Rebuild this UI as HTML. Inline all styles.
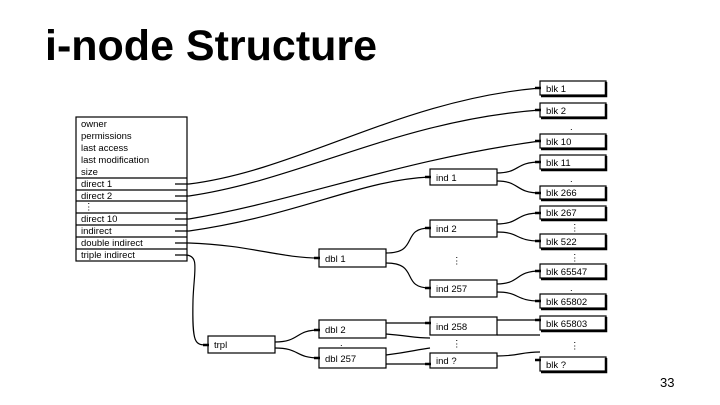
<!DOCTYPE html><html><head><style>body{margin:0;background:#fff}svg{display:block}</style></head><body>
<svg width="720" height="405" viewBox="0 0 720 405" xmlns="http://www.w3.org/2000/svg" font-family="Liberation Sans, sans-serif">
<text x="45" y="60" font-size="43" font-weight="bold">i-node Structure</text>
<text x="660" y="387" font-size="13">33</text>
<g fill="none" stroke="#000" stroke-width="1.2">
<rect x="76" y="117" width="111" height="144"/>
<path d="M76 178H187M76 190H187M76 201H187M76 213H187M76 225H187M76 237H187M76 249H187"/>
</g>
<g font-size="9.5" fill="#000">
<text x="81" y="127">owner</text><text x="81" y="139">permissions</text><text x="81" y="151">last access</text><text x="81" y="163">last modification</text><text x="81" y="175">size</text>
<text x="81" y="187">direct 1</text><text x="81" y="199">direct 2</text><text x="84" y="210">⋮</text><text x="81" y="222">direct 10</text><text x="81" y="234">indirect</text><text x="81" y="246">double indirect</text><text x="81" y="258">triple indirect</text>
</g>
<g fill="#fff" stroke="#000" stroke-width="1.2">
<rect x="540" y="81" width="66" height="14"/><rect x="540" y="103" width="66" height="14"/><rect x="540" y="134" width="66" height="14"/><rect x="540" y="155" width="66" height="14"/><rect x="540" y="186" width="66" height="13"/><rect x="540" y="206" width="66" height="13"/><rect x="540" y="234" width="66" height="14"/><rect x="540" y="264" width="66" height="14"/><rect x="540" y="294" width="66" height="14"/><rect x="540" y="316" width="66" height="14"/><rect x="540" y="357" width="66" height="14"/>
<rect x="430" y="169" width="67" height="16"/><rect x="430" y="220" width="67" height="17"/><rect x="430" y="280" width="67" height="17"/><rect x="430" y="317" width="67" height="18"/><rect x="430" y="353" width="67" height="15"/>
<rect x="319" y="249" width="67" height="18"/><rect x="319" y="320" width="67" height="18"/><rect x="319" y="348" width="67" height="20"/><rect x="208" y="336" width="67" height="17"/>
</g>
<g font-size="9.5">
<text x="546" y="92">blk 1</text><text x="546" y="114">blk 2</text><text x="546" y="145">blk 10</text><text x="546" y="166">blk 11</text><text x="546" y="196">blk 266</text><text x="546" y="216">blk 267</text><text x="546" y="245">blk 522</text><text x="546" y="275">blk 65547</text><text x="546" y="305">blk 65802</text><text x="546" y="327">blk 65803</text><text x="546" y="368">blk ?</text>
<text x="436" y="181">ind 1</text><text x="436" y="232">ind 2</text><text x="436" y="292">ind 257</text><text x="436" y="330">ind 258</text><text x="436" y="364">ind ?</text>
<text x="325" y="262">dbl 1</text><text x="325" y="333">dbl 2</text><text x="325" y="362">dbl 257</text><text x="214" y="348">trpl</text>
<text x="570" y="130">.</text><text x="570" y="182">.</text><text x="570" y="231">⋮</text><text x="570" y="261">⋮</text><text x="570" y="291">.</text><text x="570" y="349">⋮</text>
<text x="452" y="264">⋮</text><text x="452" y="347">⋮</text><text x="340" y="346">.</text>
</g>
<g fill="none" stroke="#000" stroke-width="1.2">
<path d="M175 184H189C300 170 400 100 540 88"/>
<path d="M175 196H189C300 180 400 120 540 110"/>
<path d="M175 219H189C300 200 400 160 540 141"/>
<path d="M175 231H189C300 215 360 180 430 177"/>
<path d="M175 243H189C250 245 280 258 319 258"/>
<path d="M175 255H185C200 255 194 270 193 300C192 345 195 345 208 345"/>
<path d="M497 173C520 173 515 162 540 162"/><path d="M497 181C520 181 515 193 540 193"/>
<path d="M497 224C520 224 515 213 540 213"/><path d="M497 232C520 232 515 241 540 241"/>
<path d="M386 253C420 253 400 228 430 228"/><path d="M386 263C420 263 400 288 430 288"/>
<path d="M497 284C520 284 515 271 540 271"/><path d="M497 292C520 292 515 301 540 301"/>
<path d="M497 320H540"/><path d="M497 335C520 335 530 335 540 335"/>
<path d="M275 342C300 342 295 330 319 330"/><path d="M275 348C300 348 295 358 319 358"/>
<path d="M386 323H430"/><path d="M386 334C410 336 415 338 430 338"/><path d="M386 355C410 352 415 350 430 348"/><path d="M386 364H430"/>
<path d="M497 356C520 356 520 352 540 352"/>
</g>
<g stroke="#000" stroke-width="2.5" fill="none">
<path d="M535 88H541M535 110H541M535 141H541M535 162H541M535 193H541M535 213H541M535 241H541M535 271H541M535 301H541M535 320H541M535 360H541M425 177H431M425 228H431M425 288H431M425 323H431M425 364H431M314 258H320M314 330H320M314 358H320M203 345H209"/>
<path d="M606 82V96H541M606 104V118H541M606 135V149H541M606 156V170H541M606 187V200H541M606 207V220H541M606 235V249H541M606 265V279H541M606 295V309H541M606 317V331H541M606 358V372H541"/>
</g>
</svg></body></html>
